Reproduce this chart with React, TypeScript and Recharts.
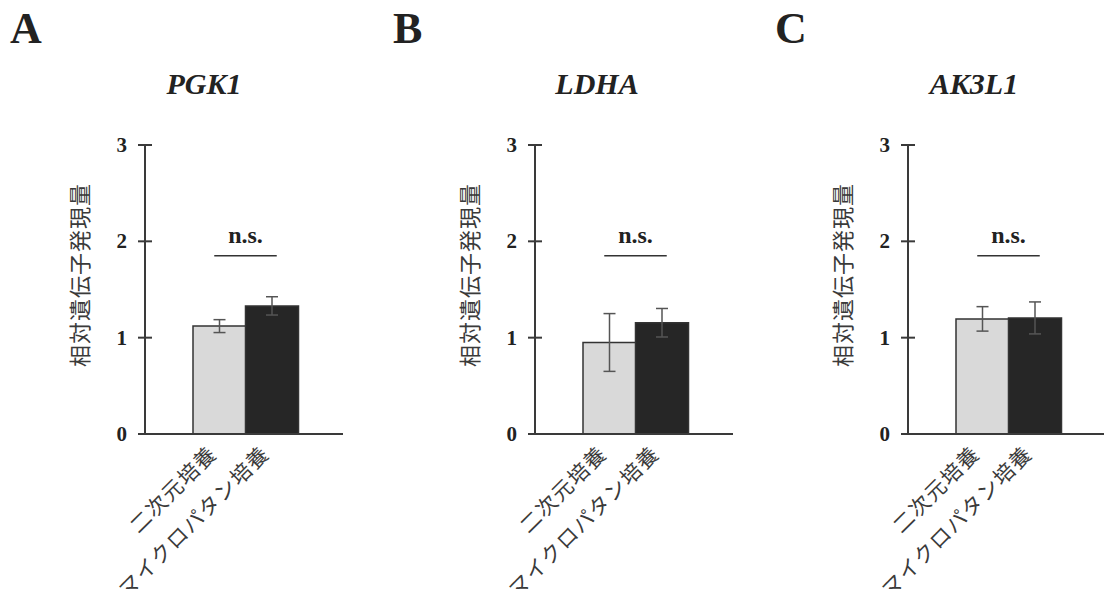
import React from 'react'
import { BarChart, Bar, XAxis, YAxis, Cell, ErrorBar, ReferenceLine } from 'recharts'

// culture conditions (x categories)
const GROUPS = ['二次元培養', 'マイクロパタン培養']
const GENES = ['PGK1', 'LDHA', 'AK3L1']
const LETTERS = ['A', 'B', 'C']

// relative expression, mean and error
const PGK1_MEAN = [1.12, 1.33]
const PGK1_ERR = [0.067, 0.095]
const LDHA_MEAN = [0.95, 1.155]
const LDHA_ERR = [0.3, 0.148]
const AK3L1_MEAN = [1.195, 1.205]
const AK3L1_ERR = [0.127, 0.166]

const Y_TICKS = [0, 1, 2, 3]
const Y_LABEL = '相対遺伝子発現量'
const SIG_LABEL = 'n.s.'
const SIG_Y = 1.85

const MEANS = [PGK1_MEAN, LDHA_MEAN, AK3L1_MEAN]
const ERRS = [PGK1_ERR, LDHA_ERR, AK3L1_ERR]

// layout
const PANEL_LEFT = [0, 390, 763]
const LETTER_X = [10, 393, 775]
const TITLE_CX = [204, 597, 974]

const AXIS = '#3a3a3a'
const BAR_FILLS = ['#d9d9d9', '#262626']
const SERIF = '"Liberation Serif", "Times New Roman", Times, "Nimbus Roman", serif'
const GOTHIC = '"Noto Sans CJK JP", "Noto Sans", sans-serif'

const YTick = (props: any) => {
  const { x, y, payload } = props
  return (
    <g>
      <line x1={x - 7} x2={x + 7} y1={y} y2={y} stroke={AXIS} strokeWidth={2} />
      <text
        x={x - 18}
        y={y}
        dy={7}
        textAnchor="end"
        fontFamily={SERIF}
        fontWeight="bold"
        fontSize={21}
        fill="#222"
      >
        {payload.value}
      </text>
    </g>
  )
}

const XTick = (props: any) => {
  const { x, y, payload } = props
  return (
    <g transform={`translate(${x - 1},${y + 13})`}>
      <text
        x={0}
        y={0}
        textAnchor="end"
        transform="rotate(-45)"
        fontFamily={GOTHIC}
        fontSize={21}
        letterSpacing={1.5}
        fill="#3a3a3a"
      >
        {payload.value}
      </text>
    </g>
  )
}

function Panel({ idx }: { idx: number }) {
  const data = GROUPS.map((g, i) => ({ name: g, mean: MEANS[idx][i], err: ERRS[idx][i] }))
  return (
    <div style={{ position: 'absolute', left: PANEL_LEFT[idx], top: 0 }}>
      <BarChart
        width={343}
        height={589}
        data={data}
        margin={{ top: 145, right: 0, bottom: 0, left: 0 }}
        barCategoryGap={0}
      >
        <XAxis
          dataKey="name"
          interval={0}
          height={155}
          padding={{ left: 48, right: 45 }}
          axisLine={{ stroke: AXIS, strokeWidth: 2 }}
          tickLine={false}
          tick={<XTick />}
        />
        <YAxis
          width={145}
          domain={[0, 3]}
          ticks={Y_TICKS}
          tickSize={0}
          tickMargin={0}
          tickLine={false}
          axisLine={{ stroke: AXIS, strokeWidth: 2 }}
          tick={<YTick />}
          label={{
            value: Y_LABEL,
            content: () => (
              <text
                x={78}
                y={275}
                transform="rotate(-90, 78, 275)"
                textAnchor="middle"
                dominantBaseline="central"
                fontFamily={GOTHIC}
                fontSize={22}
                letterSpacing={1}
                fill="#3a3a3a"
              >
                {Y_LABEL}
              </text>
            ),
          }}
        />
        <Bar dataKey="mean" isAnimationActive={false} stroke="#333" strokeWidth={1.5}>
          {data.map((d, i) => (
            <Cell key={d.name} fill={BAR_FILLS[i]} />
          ))}
          <ErrorBar dataKey="err" width={6} stroke="#555" strokeWidth={1.5} direction="y" />
        </Bar>
        <ReferenceLine
          segment={[
            { x: GROUPS[0], y: SIG_Y },
            { x: GROUPS[1], y: SIG_Y },
          ]}
          stroke="#333"
          strokeWidth={1.5}
          shape={(p: any) => (
            <line x1={p.x1 - 5} x2={p.x2 + 5} y1={p.y1} y2={p.y2} stroke="#333" strokeWidth={1.5} />
          )}
          label={{
            value: SIG_LABEL,
            position: 'top',
            offset: 13,
            fontFamily: SERIF,
            fontWeight: 'bold',
            fontSize: 24,
            fill: '#222',
          }}
        />
      </BarChart>
    </div>
  )
}

export default function App() {
  return (
    <div
      style={{
        position: 'absolute',
        left: 0,
        top: 0,
        width: 1104,
        height: 589,
        overflow: 'hidden',
        background: '#fff',
      }}
    >
      {GENES.map((g, i) => (
        <React.Fragment key={g}>
          <div
            style={{
              position: 'absolute',
              left: LETTER_X[i],
              top: 4,
              fontFamily: SERIF,
              fontWeight: 'bold',
              fontSize: 44,
              lineHeight: '50px',
              color: '#222',
            }}
          >
            {LETTERS[i]}
          </div>
          <div
            style={{
              position: 'absolute',
              left: TITLE_CX[i] - 100,
              width: 200,
              top: 66,
              textAlign: 'center',
              fontFamily: SERIF,
              fontWeight: 'bold',
              fontStyle: 'italic',
              fontSize: 30,
              lineHeight: '36px',
              color: '#222',
            }}
          >
            {g}
          </div>
          <Panel idx={i} />
        </React.Fragment>
      ))}
    </div>
  )
}
